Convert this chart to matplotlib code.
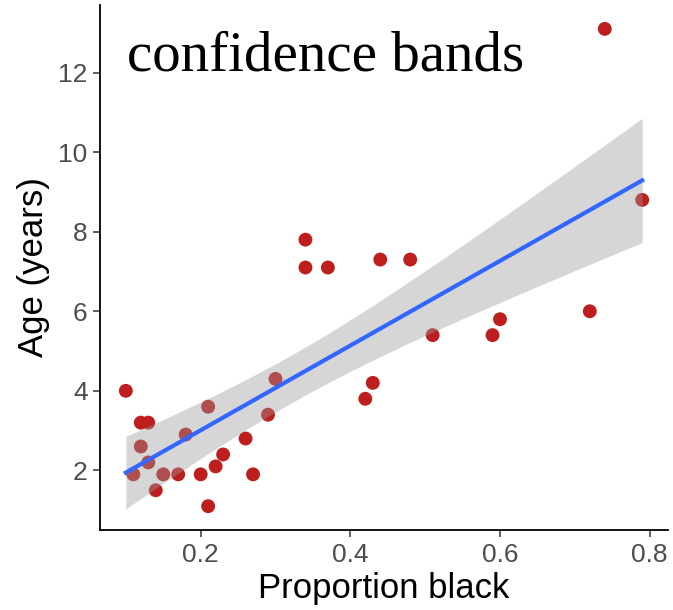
import numpy as np
import matplotlib.pyplot as plt

# proportion black vs age
prop_black = np.array([0.10, 0.11, 0.12, 0.13, 0.12, 0.13, 0.14, 0.15, 0.17, 0.18,
                       0.20, 0.21, 0.21, 0.22, 0.23, 0.26, 0.27, 0.29, 0.30, 0.34,
                       0.34, 0.37, 0.42, 0.43, 0.44, 0.48, 0.51, 0.59, 0.60, 0.72,
                       0.74, 0.79])
age = np.array([4.0, 1.9, 3.2, 3.2, 2.6, 2.2, 1.5, 1.9, 1.9, 2.9,
                1.9, 1.1, 3.6, 2.1, 2.4, 2.8, 1.9, 3.4, 4.3, 7.8,
                7.1, 7.1, 3.8, 4.2, 7.3, 7.3, 5.4, 5.4, 5.8, 6.0,
                13.1, 8.8])
x_ticks = [0.2, 0.4, 0.6, 0.8]
y_ticks = [2, 4, 6, 8, 10, 12]

# linear fit + 95% confidence band (like geom_smooth(method="lm"))
n = len(prop_black)
slope, intercept = np.polyfit(prop_black, age, 1)
resid = age - (slope * prop_black + intercept)
s_err = np.sqrt(np.sum(resid ** 2) / (n - 2))
x_mean = prop_black.mean()
sxx = np.sum((prop_black - x_mean) ** 2)
t_crit = 2.042  # t(0.975, df=30)

xs = np.linspace(prop_black.min(), prop_black.max(), 80)
ys = slope * xs + intercept
half = t_crit * s_err * np.sqrt(1 / n + (xs - x_mean) ** 2 / sxx)

fig = plt.figure(figsize=(6.73, 6.10), dpi=100)
ax = fig.add_axes([0.1486, 0.1311, 0.844, 0.8607])

ax.scatter(prop_black, age, s=100, color="#BE1E1E", edgecolors="none", zorder=2)
ax.fill_between(xs, ys - half, ys + half, color="#999999", alpha=0.4,
                linewidth=0, zorder=3)
ax.plot(xs, ys, color="#3366FF", linewidth=3, zorder=4)

rng_x = prop_black.max() - prop_black.min()
rng_y = age.max() - age.min()
ax.set_xlim(prop_black.min() - 0.05 * rng_x, prop_black.max() + 0.05 * rng_x)
ax.set_ylim(age.min() - 0.05 * rng_y, age.max() + 0.05 * rng_y)

ax.set_xticks(x_ticks)
ax.set_xticklabels([str(t) for t in x_ticks])
ax.set_yticks(y_ticks)
ax.tick_params(labelsize=19, labelcolor="#4D4D4D", color="#333333",
               length=5, width=1.1, pad=4)
for lab in ax.get_xticklabels() + ax.get_yticklabels():
    lab.set_family("Liberation Sans")

ax.spines["top"].set_visible(False)
ax.spines["right"].set_visible(False)
ax.spines["left"].set_linewidth(1.3)
ax.spines["bottom"].set_linewidth(1.3)

ax.set_xlabel("Proportion black", fontsize=25, family="Liberation Sans", labelpad=4)
ax.set_ylabel("Age (years)", fontsize=25, family="Liberation Sans", labelpad=6)

ax.text(0.0475, 0.876, "confidence bands", transform=ax.transAxes,
        fontsize=41, family="Liberation Serif", va="baseline", ha="left")

fig.savefig("out.png", dpi=100)
